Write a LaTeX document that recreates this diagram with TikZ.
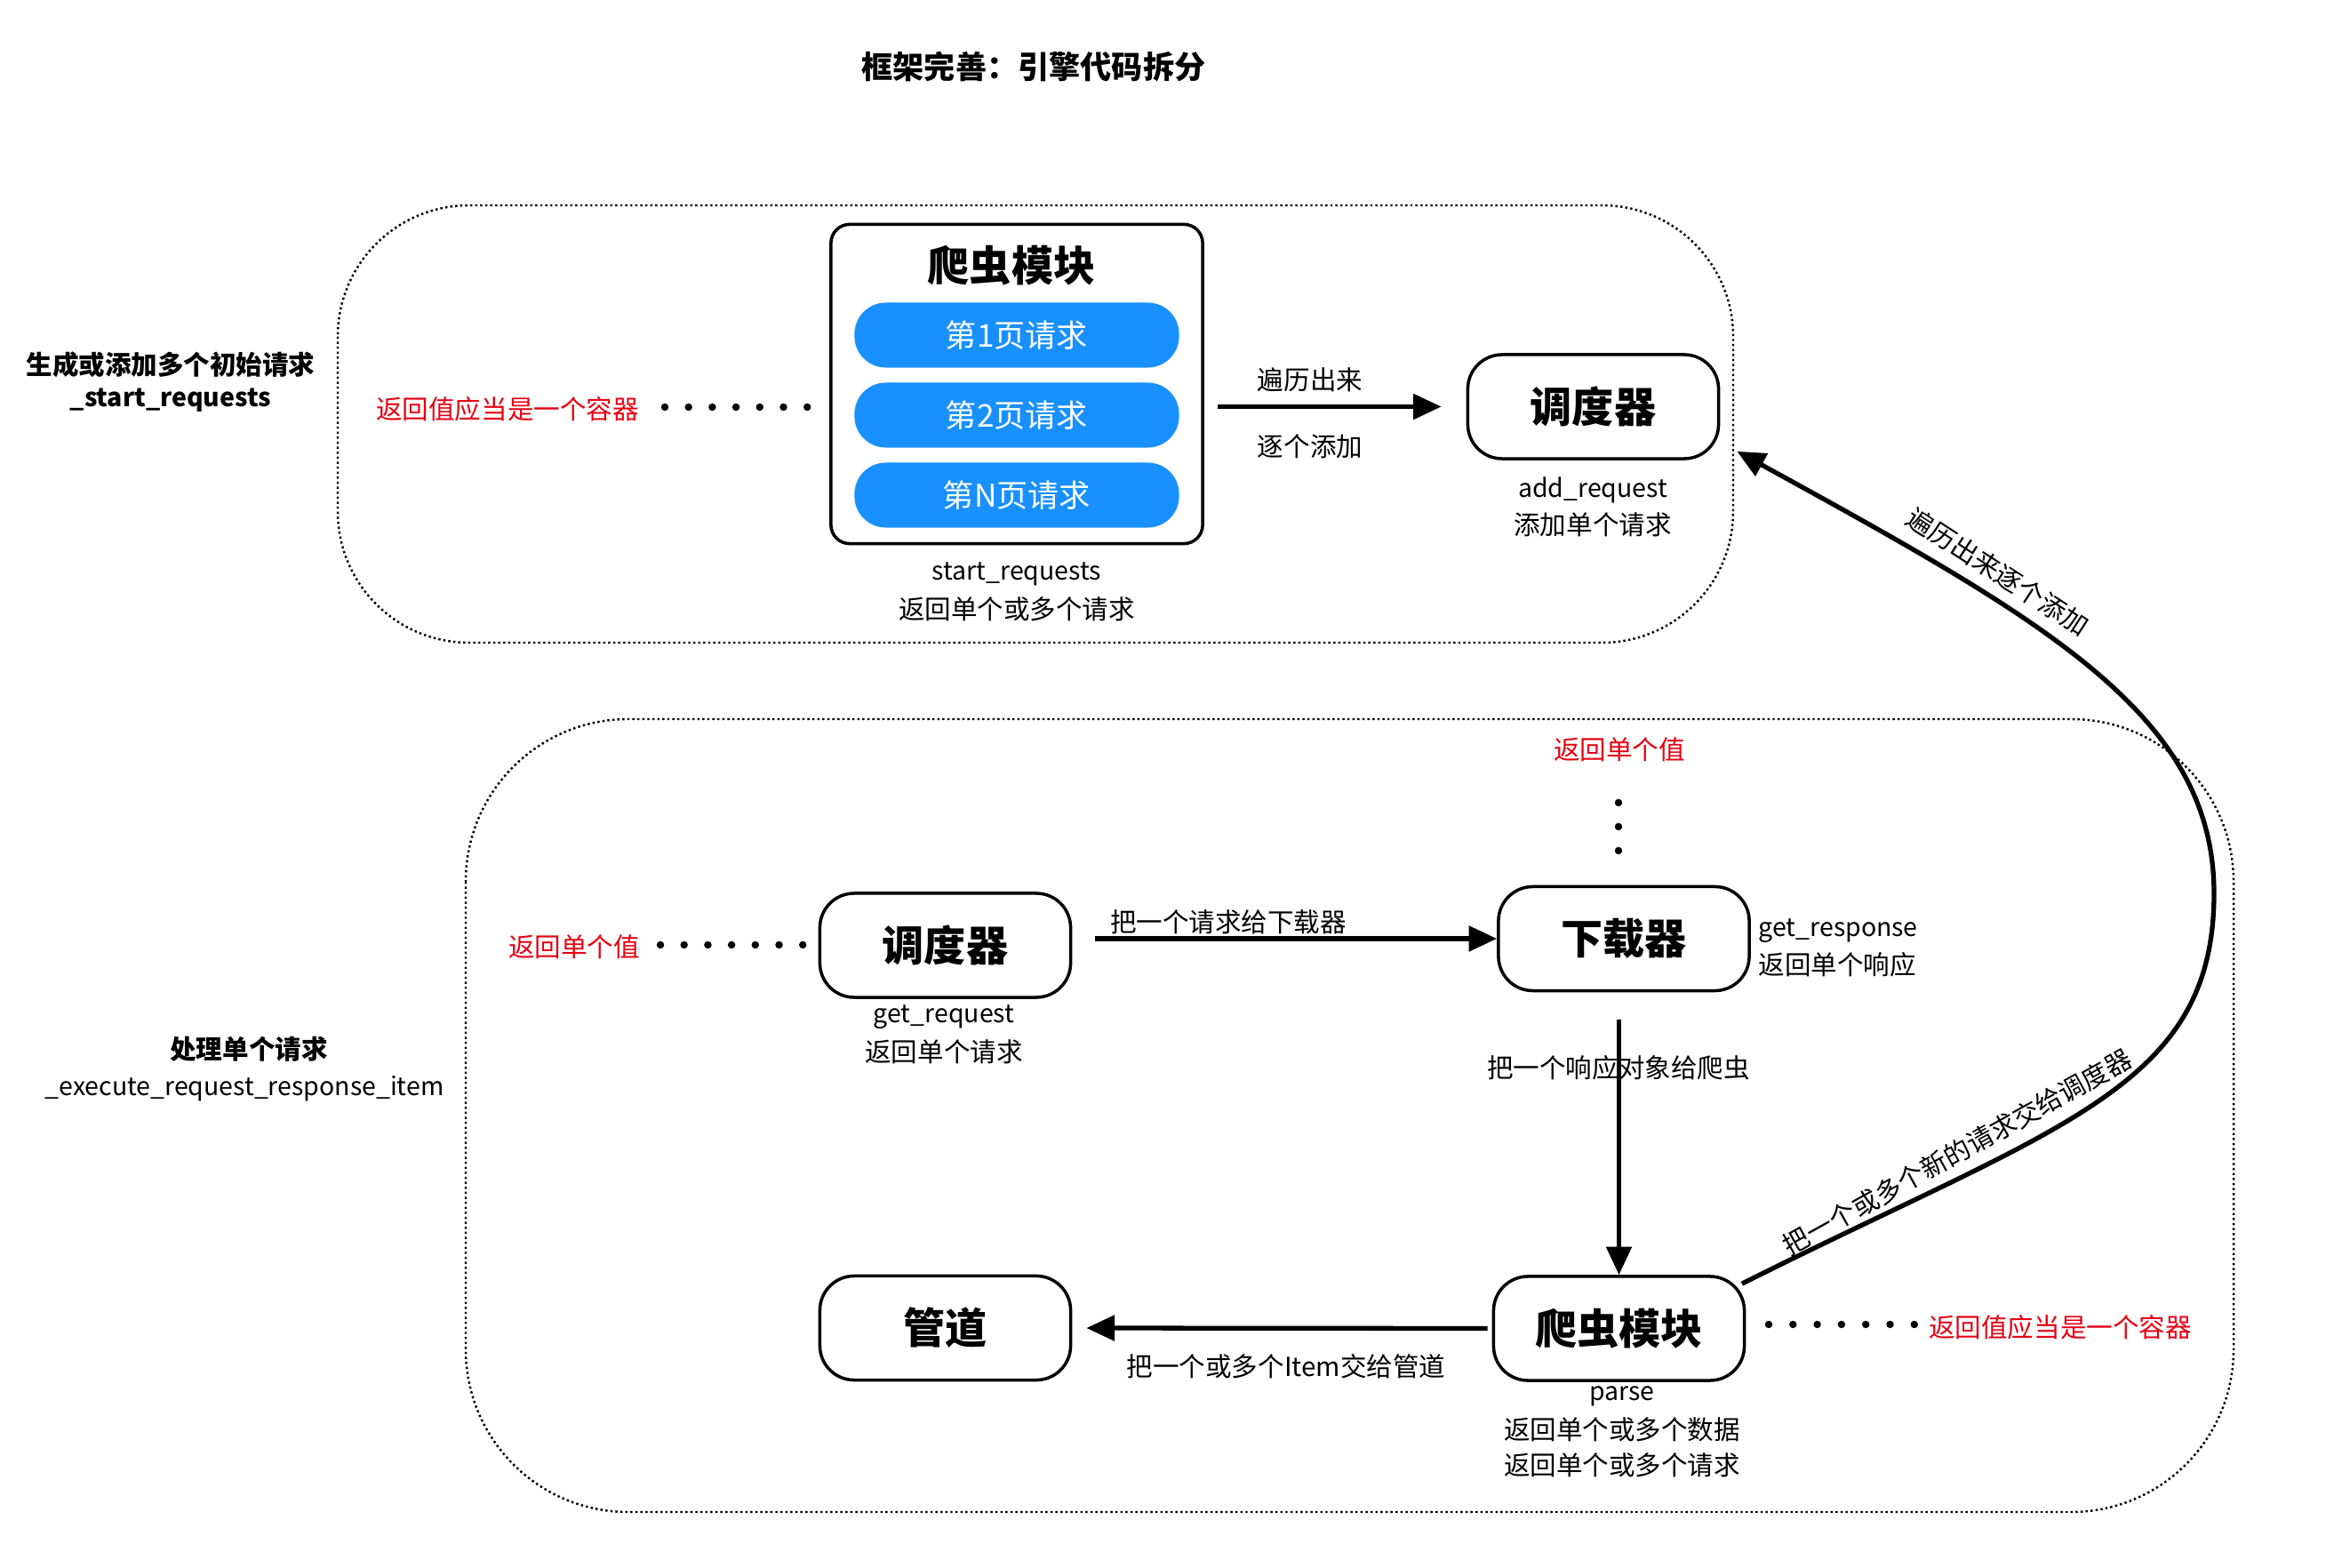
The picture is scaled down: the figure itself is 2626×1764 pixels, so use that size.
\documentclass[tikz,border=0pt]{standalone}
\usepackage{fontspec}
\setmainfont{Noto Sans CJK SC}
\usetikzlibrary{arrows.meta}
\definecolor{pillblue}{RGB}{24,144,255}
\definecolor{noteRed}{RGB}{230,0,18}
\newcommand\fsNorm{\fontsize{8.4pt}{10pt}\selectfont}
\newcommand\fsLat{\fontsize{8.1pt}{10pt}\selectfont}
\newcommand\fsBig{\fontsize{13.4pt}{16pt}\selectfont}
\newcommand\fsMid{\fontsize{10pt}{12pt}\selectfont}
\tikzset{
  grp/.style={draw, line width=0.7pt, dash pattern=on 0.7pt off 0.9pt},
  lbl/.style={inner sep=0pt, font=\fsNorm},
  latlbl/.style={inner sep=0pt, font=\fsLat},
  sidelbl/.style={inner sep=0pt, font=\fsNorm\bfseries},
  redlbl/.style={inner sep=0pt, font=\fsNorm, text=noteRed},
  titlelbl/.style={inner sep=0pt, font=\fsMid\bfseries},
  bigtxt/.style={inner sep=0pt, font=\fsBig\bfseries},
  box/.style={draw, line width=1pt, rounded corners=11pt, inner sep=0pt,
    minimum width=2.82cm, minimum height=1.17cm, font=\fsBig\bfseries},
  contbox/.style={draw, line width=1pt, rounded corners=6pt, inner sep=0pt,
    minimum width=4.18cm, minimum height=3.59cm},
  pill/.style={fill=pillblue, rounded corners=10pt, inner sep=0pt,
    minimum width=3.65cm, minimum height=0.73cm, text=white, font=\fsMid},
  flow/.style={line width=1.5pt, -{Triangle[length=9pt,width=8pt]}},
  dotmark/.style={fill=black},
}
\begin{document}
\begin{tikzpicture}[x=0.01cm,y=-0.01cm]
\useasboundingbox (0,0) rectangle (2626,1764);
\fill[white] (0,0) rectangle (2626,1764);

% title
\node[titlelbl] (title) at (1163,75) {框架完善：引擎代码拆分};

% group frames
\draw[grp, rounded corners=42pt] (380,231) rectangle (1950,723);
\draw[grp, rounded corners=52pt] (524,809) rectangle (2513,1701);

% side labels
\node[sidelbl] (g1a) at (192,410) {生成或添加多个初始请求};
\node[sidelbl, font=\fsLat\bfseries] (g1b) at (192,450) {\_start\_requests};
\node[sidelbl] (g2a) at (280,1180) {处理单个请求};
\node[latlbl] (g2b) at (275,1225) {\_execute\_request\_response\_item};

% ---------- top group ----------
\node[contbox] (spTop) at (1144,432) {};
\node[bigtxt] (spTopT) at (1138,299) {爬虫模块};
\node[pill] (p1) at (1144,377) {第1页请求};
\node[pill] (p2) at (1144,467) {第2页请求};
\node[pill] (pN) at (1144,557) {第N页请求};
\node[latlbl] (sr1) at (1144,646) {start\_requests};
\node[lbl] (sr2) at (1144,685) {返回单个或多个请求};

\node[redlbl] (rv1) at (571,460) {返回值应当是一个容器};
\foreach \i in {0,...,6} \fill[dotmark] (748+26.7*\i,458) circle[radius=1.2pt];

\node[box] (schTop) at (1792.5,457.5) {调度器};
\node[latlbl] (ar1) at (1792,551) {add\_request};
\node[lbl] (ar2) at (1792,590) {添加单个请求};

\draw[flow, shorten <=0.15cm, shorten >=0.28cm] (spTop.east |- schTop.west) -- (schTop.west);
\node[lbl] (t1) at (1474,427) {遍历出来};
\node[lbl] (t2) at (1474,502) {逐个添加};

% ---------- bottom group ----------
\node[box] (schB) at (1063.5,1063.5) {调度器};
\node[latlbl] (gr1) at (1062,1144) {get\_request};
\node[lbl] (gr2) at (1062,1183) {返回单个请求};
\node[redlbl] (rv2) at (646,1065) {返回单个值};
\foreach \i in {0,...,6} \fill[dotmark] (743+26.7*\i,1063) circle[radius=1.2pt];

\node[box] (dl) at (1827,1056) {下载器};
\node[latlbl, anchor=west] (gs1) at (1978,1047) {get\_response};
\node[lbl, anchor=west] (gs2) at (1978,1085) {返回单个响应};
\node[redlbl] (rv3) at (1822,843) {返回单个值};
\foreach \j in {903,930,957} \fill[dotmark] (1821,\j) circle[radius=1.2pt];

\node[box] (spB) at (1821.5,1494.5) {爬虫模块};
\node[latlbl] (ps1) at (1825,1571) {parse};
\node[lbl] (ps2) at (1825,1608) {返回单个或多个数据};
\node[lbl] (ps3) at (1825,1648) {返回单个或多个请求};
\foreach \i in {0,...,6} \fill[dotmark] (1990+27.3*\i,1490) circle[radius=1.2pt];
\node[redlbl] (rv4) at (2318,1493) {返回值应当是一个容器};

\node[box] (pipe) at (1063.5,1494) {管道};

% connectors
\draw[flow, shorten <=0.26cm] (schB.east |- dl.west) -- (dl.west);
\node[lbl] (c1) at (1382,1037) {把一个请求给下载器};

\draw[flow, shorten <=0.31cm] (spB.north |- dl.south) -- (spB.north);
\node[lbl] (c2) at (1821,1201) {把一个响应对象给爬虫};

\draw[flow, shorten <=0.05cm, shorten >=0.16cm] (spB.west) -- (pipe.east);
\node[lbl] (c3) at (1447,1537) {把一个或多个Item交给管道};

\draw[flow] ([shift={(-4.5,10)}]spB.north east)
   .. controls (2317,1265) and (2491,1225) .. (2491,1005)
   .. controls (2491,805) and (2303,699) .. ([shift={(19,-10)}]schTop.south east);
\node[lbl, rotate=-33] (c4) at (2248,643) {遍历出来逐个添加};
\node[lbl, rotate=29] (c5) at (2202,1296) {把一个或多个新的请求交给调度器};
\end{tikzpicture}
\end{document}
